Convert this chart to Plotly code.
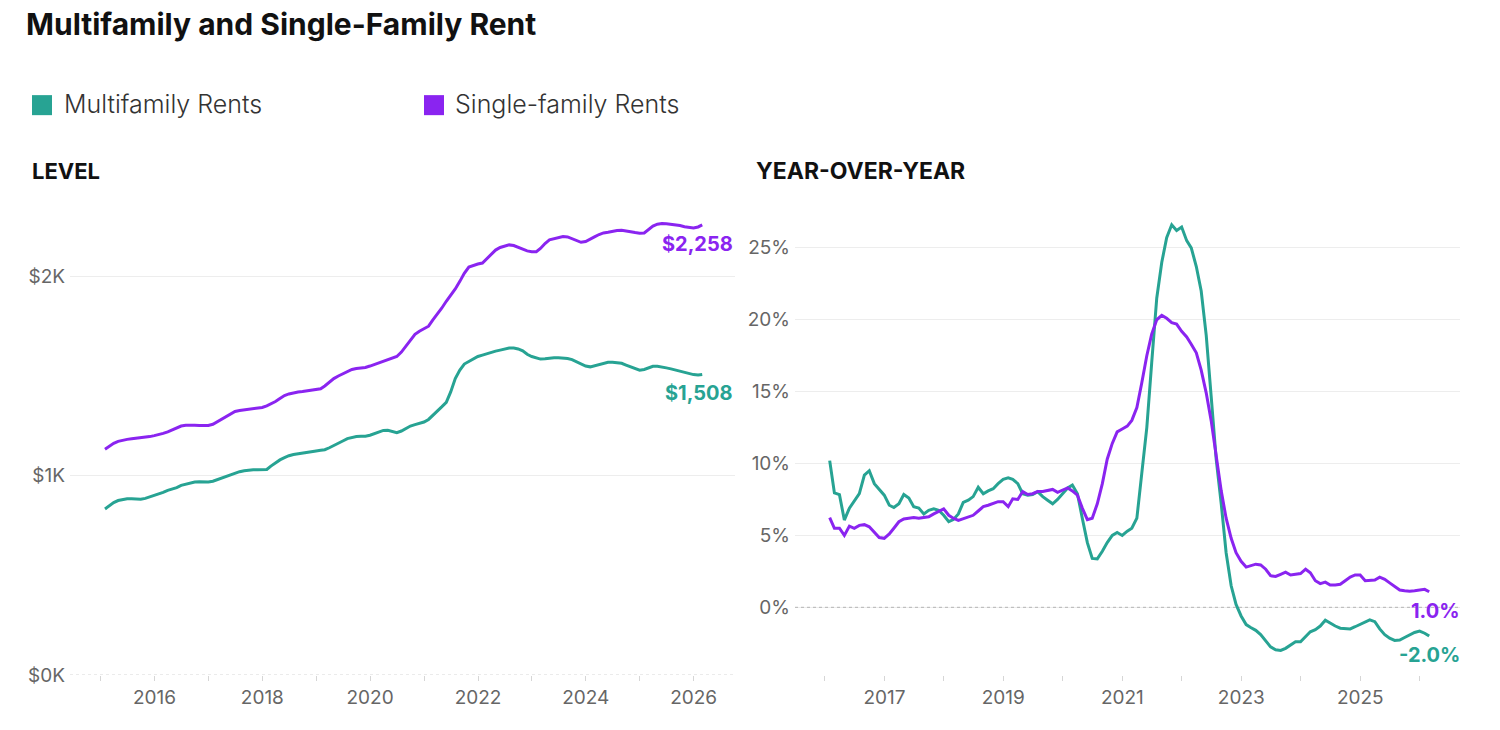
import pandas as pd
import plotly.graph_objects as go

# ---------------- data ----------------
level_start = "2015-01-31"
mf_level = [
    833, 850, 865, 875, 880, 884, 884, 883, 882, 886, 893, 900,
    908, 916, 926, 932, 940, 951, 957, 963, 968, 969, 968, 968,
    972, 980, 987, 994, 1003, 1012, 1020, 1025, 1028, 1030, 1030, 1031,
    1031, 1048, 1064, 1079, 1090, 1100, 1106, 1110, 1115, 1119, 1121, 1124,
    1127, 1130, 1140, 1150, 1162, 1174, 1186, 1192, 1196, 1198, 1198, 1203,
    1212, 1220, 1227, 1228, 1222, 1216, 1224, 1236, 1249, 1256, 1262, 1269,
    1282, 1301, 1320, 1345, 1368, 1420, 1487, 1530, 1560, 1573, 1585, 1598,
    1605, 1612, 1619, 1625, 1630, 1636, 1640, 1640, 1636, 1626, 1609, 1598,
    1590, 1585, 1587, 1590, 1592, 1592, 1590, 1588, 1582, 1571, 1560, 1550,
    1546, 1552, 1560, 1566, 1569, 1569, 1567, 1564, 1555, 1545, 1535, 1529,
    1533, 1542, 1549, 1549, 1546, 1541, 1536, 1530, 1523, 1516, 1510, 1507,
    1505, 1508,
]
sf_level = [
    1133, 1148, 1162, 1172, 1178, 1182, 1185, 1187, 1189, 1192, 1196, 1201,
    1206, 1212, 1220, 1230, 1240, 1249, 1253, 1254, 1253, 1252, 1252, 1252,
    1258, 1270, 1286, 1300, 1312, 1322, 1327, 1330, 1332, 1334, 1336, 1342,
    1350, 1359, 1372, 1387, 1402, 1410, 1416, 1420, 1422, 1426, 1430, 1433,
    1436, 1450, 1470, 1487, 1500, 1512, 1523, 1533, 1538, 1541, 1543, 1550,
    1558, 1565, 1571, 1580, 1590, 1598, 1620, 1650, 1680, 1709, 1725, 1738,
    1750, 1780, 1809, 1840, 1875, 1905, 1937, 1975, 2015, 2047, 2055, 2062,
    2067, 2088, 2110, 2132, 2145, 2153, 2158, 2155, 2145, 2135, 2128, 2124,
    2124, 2140, 2165, 2183, 2190, 2196, 2200, 2198, 2190, 2178, 2171, 2175,
    2185, 2198, 2210, 2218, 2221, 2226, 2230, 2231, 2229, 2224, 2220, 2217,
    2218, 2235, 2252, 2262, 2265, 2264, 2261, 2259, 2255, 2249, 2245, 2243,
    2248, 2258,
]

yoy_start = "2016-01-31"
mf_yoy = [
    10.2, 7.96, 7.84, 6.07, 6.9, 7.4, 7.9, 9.2, 9.5, 8.6, 8.2, 7.8,
    7.1, 6.94, 7.2, 7.85, 7.6, 7.0, 6.9, 6.5, 6.75, 6.85, 6.75, 6.4,
    5.96, 6.1, 6.5, 7.3, 7.45, 7.7, 8.35, 7.9, 8.1, 8.25, 8.6, 8.9,
    9.0, 8.9, 8.6, 7.9, 7.8, 7.85, 8.05, 7.7, 7.45, 7.2, 7.5, 7.9,
    8.3, 8.5, 7.9, 6.2, 4.5, 3.4, 3.37, 3.9, 4.5, 5.0, 5.2, 5.0,
    5.3, 5.5, 6.2, 9.3, 12.5, 17.0, 21.5, 24.0, 25.7, 26.6, 26.2, 26.45,
    25.5, 25.0, 23.7, 22.0, 18.9, 14.7, 10.3, 7.2, 3.8, 1.5, 0.2, -0.6,
    -1.2, -1.4, -1.6, -1.9, -2.3, -2.75, -2.95, -3.0, -2.85, -2.6, -2.4, -2.4,
    -2.0, -1.7, -1.55, -1.3, -0.9, -1.1, -1.3, -1.45, -1.45, -1.5, -1.35, -1.2,
    -1.0, -0.87, -1.0, -1.5, -1.9, -2.15, -2.3, -2.28, -2.1, -1.9, -1.75, -1.65,
    -1.8, -2.0,
]
sf_yoy = [
    6.24, 5.5, 5.5, 5.0, 5.65, 5.5, 5.7, 5.75, 5.6, 5.2, 4.85, 4.8,
    5.1, 5.5, 5.95, 6.15, 6.2, 6.25, 6.2, 6.25, 6.3, 6.5, 6.7, 6.85,
    6.4, 6.2, 6.05, 6.15, 6.25, 6.4, 6.7, 7.0, 7.1, 7.25, 7.35, 7.35,
    7.0, 7.55, 7.5, 8.05, 7.85, 7.9, 8.05, 8.05, 8.1, 8.2, 8.0, 8.15,
    8.3, 8.1, 7.8, 6.9, 6.1, 6.2, 7.2, 8.6, 10.3, 11.4, 12.2, 12.4,
    12.6, 13.0, 13.9, 15.6, 17.5, 19.0, 20.0, 20.3, 20.1, 19.8, 19.7, 19.2,
    18.8, 18.3, 17.7, 16.5, 14.9, 13.0, 10.6, 8.1, 6.2, 4.8, 3.8, 3.2,
    2.8, 2.9, 3.0, 2.95, 2.65, 2.2, 2.15, 2.3, 2.45, 2.25, 2.3, 2.35,
    2.65, 2.4, 1.85, 1.65, 1.75, 1.55, 1.55, 1.6, 1.85, 2.1, 2.25, 2.25,
    1.85, 1.85, 1.9, 2.1, 1.95, 1.7, 1.45, 1.2, 1.15, 1.12, 1.15, 1.2,
    1.25, 1.08,
]

level_ticks = [0, 1000, 2000]
level_labels = ["$0K", "$1K", "$2K"]
yoy_ticks = [0, 5, 10, 15, 20, 25]
yoy_labels = ["0%", "5%", "10%", "15%", "20%", "25%"]
mf_name = "Multifamily Rents"
sf_name = "Single-family Rents"
mf_end_label = "$1,508"
sf_end_label = "$2,258"
mf_yoy_label = "-2.0%"
sf_yoy_label = "1.0%"

# ---------------- styles ----------------
W = 1500
REF_H = 730      # layout coordinates are measured on a 730 px tall picture
FIG_H = 743      # rendered height (compensates the vertical scaling of the capture)
TEAL = "#27a393"
PURPLE = "#8a24f0"
FONT = "Inter, 'Noto Sans', sans-serif"
TICKC = "#666666"
GRIDC = "#ededed"

def px_x(p):
    return p / W

def px_y(p):
    return 1 - p / REF_H

level_dates = pd.date_range(level_start, periods=len(mf_level), freq="ME")
yoy_dates = pd.date_range(yoy_start, periods=len(mf_yoy), freq="ME")

fig = go.Figure()
line_w = 3
fig.add_trace(go.Scatter(x=level_dates, y=mf_level, mode="lines", name=mf_name,
                         line=dict(color=TEAL, width=line_w), xaxis="x", yaxis="y",
                         showlegend=False))
fig.add_trace(go.Scatter(x=level_dates, y=sf_level, mode="lines", name=sf_name,
                         line=dict(color=PURPLE, width=line_w), xaxis="x", yaxis="y",
                         showlegend=False))
fig.add_trace(go.Scatter(x=yoy_dates, y=mf_yoy, mode="lines", name=mf_name,
                         line=dict(color=TEAL, width=line_w), xaxis="x2", yaxis="y2",
                         showlegend=False))
fig.add_trace(go.Scatter(x=yoy_dates, y=sf_yoy, mode="lines", name=sf_name,
                         line=dict(color=PURPLE, width=line_w), xaxis="x2", yaxis="y2",
                         showlegend=False))

top_px, bot_px = 195, 674
ydom = [px_y(bot_px), px_y(top_px)]
lvl_px_per = 199.0 / 1000
yoy_px_per = 14.36
yoy_zero_px = 606.5

common_x = dict(
    type="date", showgrid=False, zeroline=False, showline=False,
    ticks="outside", ticklen=5, tickcolor="#d6d6d6",
    tickfont=dict(family=FONT, size=19, color=TICKC),
    tickformat="%Y", dtick="M24",
    minor=dict(ticks="outside", ticklen=5, tickcolor="#d6d6d6", dtick="M12"),
    fixedrange=True,
)
common_y = dict(
    showgrid=True, gridcolor=GRIDC, gridwidth=1, zeroline=False, showline=False,
    ticks="", tickfont=dict(family=FONT, size=19, color=TICKC), fixedrange=True,
    tickmode="array",
)

fig.update_layout(
    width=W, height=FIG_H,
    margin=dict(l=0, r=0, t=0, b=0),
    paper_bgcolor="white", plot_bgcolor="white",
    font=dict(family=FONT),
    xaxis=dict(common_x, domain=[px_x(70), px_x(735)],
               range=["2014-06-08", "2026-10-08"], tick0="2016-01-01",
               anchor="y"),
    yaxis=dict(common_y, domain=ydom, range=[0, (bot_px - top_px) / lvl_px_per],
               tickvals=level_ticks, ticktext=level_labels, anchor="x",
               ticklabelstandoff=4),
    xaxis2=dict(common_x, domain=[px_x(795), px_x(1460)],
                range=["2015-07-02", "2026-09-05"], tick0="2017-01-01",
                anchor="y2"),
    yaxis2=dict(common_y, domain=ydom,
                range=[-(bot_px - yoy_zero_px) / yoy_px_per, (yoy_zero_px - top_px) / yoy_px_per],
                tickvals=yoy_ticks, ticktext=yoy_labels, anchor="x2",
                ticklabelstandoff=4),
    showlegend=False,
)

# dotted baselines
fig.add_shape(type="line", xref="x domain", yref="y", x0=0, x1=1, y0=0, y1=0,
              line=dict(color="#dddddd", width=1, dash="dot"))
fig.add_shape(type="line", xref="x2 domain", yref="y2", x0=0, x1=1, y0=0, y1=0,
              line=dict(color="#b5b5b5", width=1, dash="dot"))

# title & headers
fig.add_annotation(text="<b>Multifamily and Single-Family Rent</b>", xref="paper", yref="paper",
                   x=px_x(24), y=px_y(24), xanchor="left", yanchor="middle", showarrow=False,
                   font=dict(family=FONT, size=30, color="#111111"))
fig.add_annotation(text="<b>LEVEL</b>", xref="paper", yref="paper",
                   x=px_x(30), y=px_y(171), xanchor="left", yanchor="middle", showarrow=False,
                   font=dict(family=FONT, size=22, color="#111111"))
fig.add_annotation(text="<b>YEAR-OVER-YEAR</b>", xref="paper", yref="paper",
                   x=px_x(754), y=px_y(171), xanchor="left", yanchor="middle", showarrow=False,
                   font=dict(family=FONT, size=23, color="#111111"))

# legend (custom squares)
for sx, tx, col, name in [(32, 62, TEAL, mf_name), (424, 453, PURPLE, sf_name)]:
    fig.add_shape(type="rect", xref="paper", yref="paper",
                  x0=px_x(sx), x1=px_x(sx + 20), y0=px_y(95), y1=px_y(115),
                  fillcolor=col, line=dict(width=0))
    fig.add_annotation(text=name, xref="paper", yref="paper", x=px_x(tx), y=px_y(104),
                       xanchor="left", yanchor="middle", showarrow=False,
                       font=dict(family=FONT, size=25, color="#333333", weight=300))

# end labels
for xr, yr, xs, ys, txt, col in [
    ("x", "y", level_dates[-1], sf_level[-1], sf_end_label, PURPLE),
    ("x", "y", level_dates[-1], mf_level[-1], mf_end_label, TEAL),
    ("x2", "y2", yoy_dates[-1], sf_yoy[-1], sf_yoy_label, PURPLE),
    ("x2", "y2", yoy_dates[-1], mf_yoy[-1], mf_yoy_label, TEAL),
]:
    fig.add_annotation(text=f"<b>{txt}</b>", xref=xr, yref=yr, x=xs, y=ys,
                       xanchor="right", yanchor="middle", xshift=33, yshift=-19,
                       showarrow=False, font=dict(family=FONT, size=20, color=col))

fig.write_html("out.html", config={"displayModeBar": False},
               post_script="document.body.style.margin='0';")
